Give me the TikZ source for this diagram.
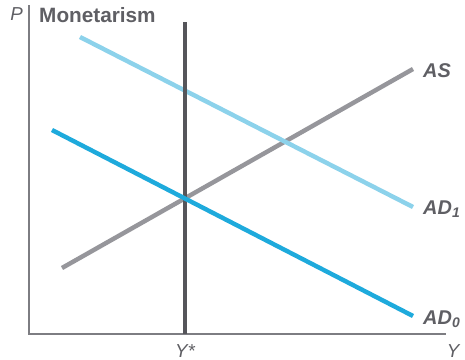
\documentclass[tikz,border=0pt]{standalone}
\usepackage{fontspec}
\setmainfont{Liberation Sans}
\usepackage{xcolor}
\usetikzlibrary{positioning}

\definecolor{axisgray}{RGB}{125,125,130}
\definecolor{txtgray}{RGB}{95,95,100}
\definecolor{asgray}{RGB}{150,150,155}
\definecolor{ystargray}{RGB}{85,85,90}
\definecolor{adlight}{RGB}{140,210,235}
\definecolor{addark}{RGB}{30,170,220}

\tikzset{
  curve/.style={line width=3.8pt},
  lbl/.style={font=\fontsize{16}{18}\selectfont\itshape, text=txtgray, inner sep=0pt},
  curvelbl/.style={lbl, font=\fontsize{17}{19}\selectfont\bfseries\itshape, anchor=west}
}

\begin{document}
\begin{tikzpicture}[x=0.03cm,y=-0.03cm]
    \useasboundingbox (0,0) rectangle (465,360);

    % axes
    \coordinate (o) at (29,334);
    \coordinate (ptop) at (29,5);
    \coordinate (yend) at (446,334);
    \draw[axisgray, line width=1.5pt] (ptop) -- (o) -- (yend);

    \node[lbl, anchor=east] (plab) at (23,14) {P};
    \node[font=\fontsize{17.7}{19}\selectfont\bfseries, text=txtgray, anchor=west, inner sep=0pt] (title) at (39,15) {Monetarism};

    % curves
    \coordinate (as0) at (62,268);
    \coordinate (as1) at (413,69);
    \coordinate (ad10) at (80,37);
    \coordinate (ad11) at (413,207);
    \coordinate (ad00) at (52,130);
    \coordinate (ad01) at (413,316);
    \coordinate (ys0) at (185,22);
    \coordinate (ys1) at (185,334);

    \draw[curve, asgray] (as0) -- (as1);
    \draw[curve, adlight] (ad10) -- (ad11);
    \draw[curve, ystargray] (ys0) -- (ys1);
    \draw[curve, addark] (ad00) -- (ad01);

    \node[curvelbl] (aslab) at (423,71) {AS};
    \node[curvelbl] (ad1lab) at (423,209) {AD\textsubscript{1}};
    \node[curvelbl] (ad0lab) at (423,319) {AD\textsubscript{0}};

    \node[lbl] (ystar) at (185,351) {Y*};
    \node[lbl] (ylab) at (453,351) {Y};
\end{tikzpicture}
\end{document}
